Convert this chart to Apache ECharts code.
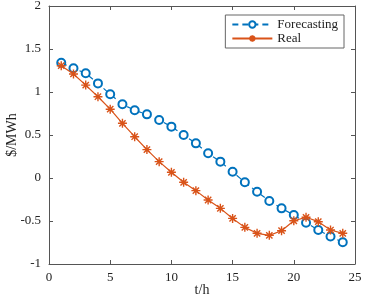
<!DOCTYPE html>
<html><head><meta charset="utf-8">
<script src="https://cdn.jsdelivr.net/npm/echarts@6/dist/echarts.min.js"></script>
<style>html,body{margin:0;padding:0;background:#fff}#c{width:371px;height:298px}</style>
</head><body><div id="c"></div>
<script>
const hours = [1,2,3,4,5,6,7,8,9,10,11,12,13,14,15,16,17,18,19,20,21,22,23,24];
const forecasting = [1.34,1.276,1.217,1.10,0.973,0.857,0.787,0.74,0.674,0.597,0.50,0.403,0.287,0.19,0.073,-0.05,-0.16,-0.267,-0.353,-0.43,-0.52,-0.605,-0.68,-0.748];
const real = [1.306,1.21,1.08,0.945,0.80,0.636,0.48,0.33,0.19,0.066,-0.05,-0.147,-0.256,-0.353,-0.47,-0.574,-0.643,-0.667,-0.613,-0.497,-0.457,-0.508,-0.605,-0.643];

const axisColor = '#555';
const font = '"Liberation Serif", serif';
const star = 'path://M0,-10L0,10M-10,0L10,0M-7,-7L7,7M-7,7L7,-7';
const chart = echarts.init(document.getElementById('c'));
const baseAxis = {
  axisLine:{show:true,onZero:false,lineStyle:{color:axisColor,width:1}},
  axisTick:{show:true,inside:true,length:4,lineStyle:{color:axisColor}},
  splitLine:{show:false}
};
chart.setOption({
  animation:false,
  grid:{left:49,right:16,top:6,bottom:34,outerBoundsMode:'none',containLabel:false},
  legend:{
    orient:'vertical', right:27, top:15, padding:[3,6,3,6],
    borderColor:'#666', borderWidth:1, itemGap:1, itemWidth:40, itemHeight:8,
    textStyle:{fontFamily:font,fontSize:13,color:'#222'},
    data:['Forecasting','Real']
  },
  xAxis:[
    Object.assign({type:'value',min:0,max:25,interval:5,position:'bottom',
      name:'t/h',nameLocation:'middle',nameGap:19,nameMoveOverlap:false,
      nameTextStyle:{fontFamily:font,fontSize:14,color:'#222'},
      axisLabel:{fontFamily:font,fontSize:13,color:'#222',margin:7}},baseAxis),
    Object.assign({type:'value',min:0,max:25,interval:5,position:'top',axisLabel:{show:false}},baseAxis)
  ],
  yAxis:[
    Object.assign({type:'value',min:-1,max:2,interval:0.5,position:'left',
      name:'$/MWh',nameLocation:'middle',nameGap:30,nameMoveOverlap:false,
      nameTextStyle:{fontFamily:font,fontSize:14,color:'#222'},
      axisLabel:{fontFamily:font,fontSize:13,color:'#222',margin:8}},baseAxis),
    Object.assign({type:'value',min:-1,max:2,interval:0.5,position:'right',axisLabel:{show:false}},baseAxis)
  ],
  series:[
    {name:'Forecasting',type:'line',data:hours.map((h,i)=>[h,forecasting[i]]),
      color:'#0072BD',
      lineStyle:{color:'#0072BD',width:1.2,type:[6,4]},
      symbol:'emptyCircle',symbolSize:8,
      itemStyle:{color:'#0072BD',borderColor:'#0072BD',borderWidth:1.3},z:3},
    {name:'Real',type:'line',data:hours.map((h,i)=>[h,real[i]]),
      color:'#D95319',
      lineStyle:{color:'#D95319',width:1.2},
      symbol:star,symbolSize:9,
      itemStyle:{color:'#D95319',borderColor:'#D95319',borderWidth:1.4},z:4}
  ]
});
</script></body></html>
